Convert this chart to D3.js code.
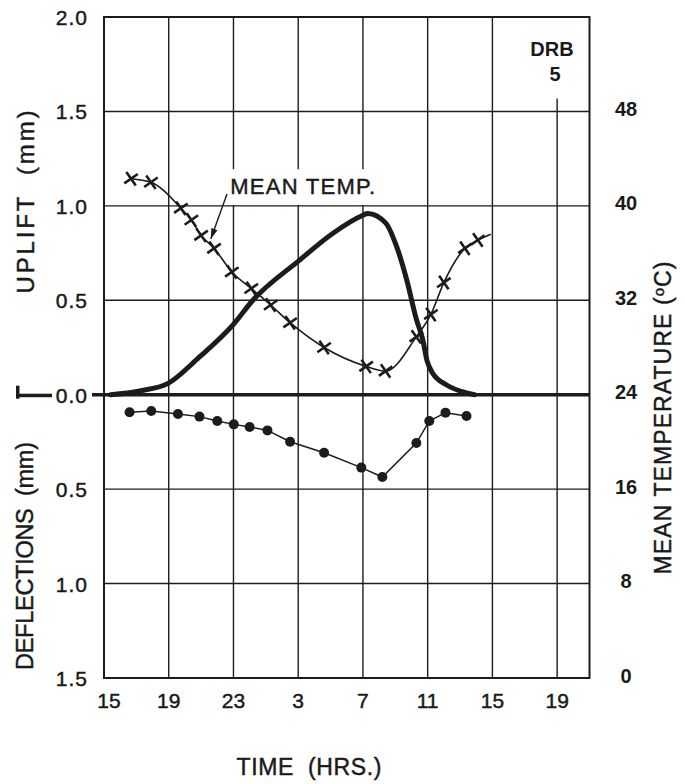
<!DOCTYPE html>
<html>
<head>
<meta charset="utf-8">
<script src="https://cdn.jsdelivr.net/npm/d3@7"></script>
<style>
  body { margin: 0; background: #fff; }
  text { font-family: "Liberation Sans", Arial, sans-serif; fill: #1a1a1a; stroke: #1a1a1a; stroke-width: 0.45px; }
</style>
</head>
<body>
<div id="graph1"></div>
<script>

let width = 685,
    height = 784;

// hours elapsed since 15:00 on the first day
let tickHours = [0, 4, 8, 12, 16, 20, 24, 28];
let hourLabels = ["15", "19", "23", "3", "7", "11", "15", "19"];

let upliftTicks = ["2.0", "1.5", "1.0", "0.5", "0.0"];
let deflectionTicks = ["0.5", "1.0", "1.5"];
let tempTicks = [0, 8, 16, 24, 32, 40, 48];

// uplift curve (mm)
let upliftHour = [0.4, 2.2, 3.96, 5.9, 7.97, 9.2, 12.05, 14.15, 16.0, 16.3, 17.4, 18.1, 18.7, 19.3, 19.7, 19.96, 20.3, 21.2, 22.4, 22.9];
let upliftMm   = [0.0, 0.02, 0.06, 0.2, 0.37, 0.5, 0.71, 0.855, 0.95, 0.96, 0.91, 0.78, 0.61, 0.40, 0.29, 0.18, 0.115, 0.05, 0.01, 0.0];

// mean temperature (C), last point is the line tail without a marker
let tempHour = [1.67, 2.9, 4.75, 5.4, 6.0, 6.8, 7.9, 9.1, 10.3, 11.5, 13.6, 16.2, 17.4, 19.3, 20.2, 21.0, 22.3, 23.1, 23.9];
let tempC    = [42.3, 42.0, 39.8, 38.8, 37.5, 36.4, 34.4, 33.0, 31.6, 30.1, 28.0, 26.4, 26.0, 28.9, 30.8, 33.5, 36.4, 37.1, 37.6];

// deflections (mm, downward)
let deflHour = [1.58, 2.92, 4.57, 5.9, 7.0, 8.02, 9.0, 10.1, 11.5, 13.6, 15.9, 17.2, 19.3, 20.1, 21.1, 22.4];
let deflMm   = [0.093, 0.086, 0.102, 0.116, 0.139, 0.157, 0.171, 0.189, 0.249, 0.307, 0.386, 0.436, 0.256, 0.139, 0.095, 0.113];


let svg = d3.select("#graph1")
    .append("svg")
    .attr("width", width)
    .attr("height", height);

let x = d3.scaleLinear()
    .domain([0, 30])
    .range([104, 589.5]);

// one scale for uplift (up) and deflection (down, negative)
let y = d3.scaleLinear()
    .domain([-1.5, 2.0])
    .range([678, 17]);

let yT = d3.scaleLinear()
    .domain([0, 56])
    .range([678, 17]);

let ink = "#1c1c1c";

// grid
let grid = svg.append("g").attr("stroke", ink).attr("stroke-width", 1.4);

let gridVals = d3.range(-1.5, 2.01, 0.5);
grid.selectAll("line.h").data(gridVals).enter()
    .append("line")
    .attr("x1", x(0)).attr("x2", x(30))
    .attr("y1", d => y(d)).attr("y2", d => y(d));

grid.selectAll("line.v").data(tickHours).enter()
    .append("line")
    .attr("x1", d => x(d)).attr("x2", d => x(d))
    .attr("y1", d => d === 28 ? yT(49.1) : y(2.0))
    .attr("y2", y(-1.5));

// frame
svg.append("rect")
    .attr("x", x(0)).attr("y", y(2.0))
    .attr("width", x(30) - x(0)).attr("height", y(-1.5) - y(2.0))
    .attr("fill", "none").attr("stroke", ink).attr("stroke-width", 2);

// zero line
svg.append("line")
    .attr("x1", 92).attr("x2", x(30))
    .attr("y1", y(0)).attr("y2", y(0))
    .attr("stroke", ink).attr("stroke-width", 3.5);

// left axis labels
svg.append("g").selectAll("text").data(upliftTicks).enter()
    .append("text")
    .attr("x", 88).attr("y", d => y(+d))
    .attr("dy", "0.38em")
    .style("text-anchor", "end")
    .style("font-size", "21px")
    .style("letter-spacing", "1px")
    .text(d => d);

svg.append("g").selectAll("text").data(deflectionTicks).enter()
    .append("text")
    .attr("x", 88).attr("y", d => y(-d))
    .attr("dy", "0.38em")
    .style("text-anchor", "end")
    .style("font-size", "21px")
    .style("letter-spacing", "1px")
    .text(d => d);

// marker left of 0.0
svg.append("rect")
    .attr("x", 16).attr("y", y(0) - 9)
    .attr("width", 3.5).attr("height", 13)
    .attr("fill", ink);
svg.append("rect")
    .attr("x", 16).attr("y", y(0) - 1)
    .attr("width", 36).attr("height", 3.5)
    .attr("fill", ink);

// right axis labels
svg.append("g").selectAll("text").data(tempTicks).enter()
    .append("text")
    .attr("x", 626).attr("y", d => yT(d) - 3)
    .attr("dy", "0.38em")
    .style("text-anchor", "middle")
    .style("font-size", "20px")
    .style("font-weight", "bold")
    .style("stroke-width", 0)
    .text(d => d);

// x labels
svg.append("g").selectAll("text").data(tickHours).enter()
    .append("text")
    .attr("x", (d, i) => x(d) + (i === 0 ? 5 : 0))
    .attr("y", 700)
    .attr("dy", "0.38em")
    .style("text-anchor", "middle")
    .style("font-size", "21px")
    .text((d, i) => hourLabels[i]);

// axis titles
svg.append("text")
    .attr("transform", "translate(34, 202) rotate(-90)")
    .style("text-anchor", "middle")
    .style("font-size", "24px")
    .attr("textLength", 183).attr("lengthAdjust", "spacing")
    .attr("xml:space", "preserve")
    .text("UPLIFT  (mm)");

svg.append("text")
    .attr("transform", "translate(33, 556) rotate(-90)")
    .style("text-anchor", "middle")
    .style("font-size", "23.5px")
    .attr("textLength", 228).attr("lengthAdjust", "spacing")
    .attr("xml:space", "preserve")
    .text("DEFLECTIONS  (mm)");

let tTitle = svg.append("text")
    .attr("transform", "translate(671, 418) rotate(-90)")
    .style("text-anchor", "middle")
    .style("font-size", "23px")
    .attr("textLength", 313).attr("lengthAdjust", "spacing");
tTitle.append("tspan").text("MEAN TEMPERATURE (");
tTitle.append("tspan").attr("dy", -7).style("font-size", "15px").text("o");
tTitle.append("tspan").attr("dy", 7).text("C)");

svg.append("text")
    .attr("x", 309).attr("y", 775)
    .style("text-anchor", "middle")
    .style("font-size", "23px")
    .attr("textLength", 145).attr("lengthAdjust", "spacing")
    .attr("xml:space", "preserve")
    .text("TIME  (HRS.)");

// DRB 5
svg.append("text")
    .attr("x", 552).attr("y", 56)
    .style("text-anchor", "middle")
    .style("font-size", "20px").style("font-weight", "bold")
    .style("stroke-width", 0)
    .text("DRB");
svg.append("text")
    .attr("x", 555).attr("y", 81)
    .style("text-anchor", "middle")
    .style("font-size", "20px").style("font-weight", "bold")
    .style("stroke-width", 0)
    .text("5");

// uplift curve
let uplift = upliftHour.map((h, i) => [h, upliftMm[i]]);
svg.append("path")
    .datum(uplift)
    .attr("fill", "none")
    .attr("stroke", ink)
    .attr("stroke-width", 5)
    .attr("stroke-linecap", "round")
    .attr("d", d3.line().x(d => x(d[0])).y(d => y(d[1])).curve(d3.curveMonotoneX));

// temperature line with crosses
let temp = tempHour.map((h, i) => [h, tempC[i]]);
svg.append("path")
    .datum(temp)
    .attr("fill", "none")
    .attr("stroke", ink)
    .attr("stroke-width", 1.6)
    .attr("d", d3.line().x(d => x(d[0])).y(d => yT(d[1])).curve(d3.curveMonotoneX));

svg.append("g").selectAll("path").data(temp.slice(0, -1)).enter()
    .append("path")
    .attr("transform", d => `translate(${x(d[0])}, ${yT(d[1])}) rotate(10)`)
    .attr("d", d3.symbol(d3.symbolTimes, 90))
    .attr("fill", "none")
    .attr("stroke", ink)
    .attr("stroke-width", 2.6);

// deflection line with dots
let defl = deflHour.map((h, i) => [h, -deflMm[i]]);
svg.append("path")
    .datum(defl)
    .attr("fill", "none")
    .attr("stroke", ink)
    .attr("stroke-width", 1.5)
    .attr("d", d3.line().x(d => x(d[0])).y(d => y(d[1])));

svg.append("g").selectAll("circle").data(defl).enter()
    .append("circle")
    .attr("cx", d => x(d[0]))
    .attr("cy", d => y(d[1]))
    .attr("r", 5)
    .attr("fill", ink);

// MEAN TEMP. callout
let labelX = x(7.8);
svg.append("rect")
    .attr("x", labelX - 3).attr("y", yT(43.1))
    .attr("width", 150).attr("height", yT(40) - yT(43.1) - 1)
    .attr("fill", "#fff");

svg.append("text")
    .attr("x", labelX).attr("y", yT(40.2) - 9)
    .style("font-size", "22px")
    .attr("textLength", 145).attr("lengthAdjust", "spacing")
    .text("MEAN TEMP.");

let tip = [x(6.6), yT(37.2)];
let tail = [x(7.6), yT(41.0)];
svg.append("line")
    .attr("x1", tail[0]).attr("y1", tail[1])
    .attr("x2", tip[0]).attr("y2", tip[1])
    .attr("stroke", ink).attr("stroke-width", 1.4);

let ang = Math.atan2(tip[1] - tail[1], tip[0] - tail[0]);
let ah = 11, aw = 0.3;
svg.append("path")
    .attr("d", `M${tip[0]},${tip[1]}` +
        `L${tip[0] - ah * Math.cos(ang - aw)},${tip[1] - ah * Math.sin(ang - aw)}` +
        `L${tip[0] - ah * Math.cos(ang + aw)},${tip[1] - ah * Math.sin(ang + aw)}Z`)
    .attr("fill", ink);

</script>
</body>
</html>
